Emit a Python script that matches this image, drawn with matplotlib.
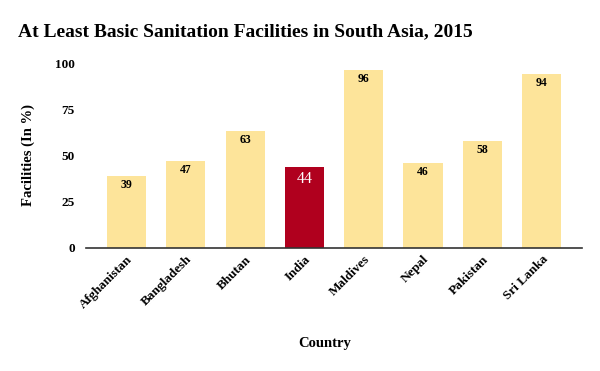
import matplotlib
matplotlib.use("Agg")
import matplotlib.pyplot as plt

countries = ["Afghanistan", "Bangladesh", "Bhutan", "India", "Maldives", "Nepal", "Pakistan", "Sri Lanka"]
values = [39, 47, 63, 44, 96, 46, 58, 94]
highlight = "India"
yticks = [0, 25, 50, 75, 100]

plt.rcParams['font.family'] = ['Liberation Serif', 'DejaVu Serif']

fig = plt.figure(figsize=(6, 3.71), dpi=100)
ax = fig.add_axes([86/600, (371-248)/371, 496/600, 185/371])

colors = ["#B0001E" if c == highlight else "#FDE49A" for c in countries]
x = list(range(len(countries)))
bars = ax.bar(x, values, width=0.66, color=colors, zorder=2)

for xi, v, c in zip(x, values, countries):
    if c == highlight:
        ax.annotate(str(v), (xi, v), xytext=(0, -9), textcoords="offset points",
                    ha="center", va="center", color="white", fontsize=11.5)
    else:
        ax.annotate(str(v), (xi, v), xytext=(0, -6.5), textcoords="offset points",
                    ha="center", va="center", color="black", fontsize=8.5, fontweight="bold")

ax.set_xlim(-0.683, 7.68)
ax.set_ylim(0, 100)
ax.set_yticks(yticks)
ax.set_yticklabels([str(t) for t in yticks], fontsize=9.5, fontweight="bold")
ax.set_xticks(x)
ax.set_xticklabels(countries, rotation=45, ha="right", rotation_mode="anchor",
                   fontsize=9.5, fontweight="bold")
ax.tick_params(axis="both", length=0)
ax.tick_params(axis="y", pad=8)
ax.tick_params(axis="x", pad=4)

for s in ["top", "right", "left"]:
    ax.spines[s].set_visible(False)
ax.spines["bottom"].set_color("#333333")
ax.spines["bottom"].set_linewidth(1.2)

ax.set_ylabel("Facilities (In %)", fontsize=10.5, fontweight="bold", labelpad=0)
ax.yaxis.set_label_coords((35 - 86) / 496, 0.5)
fig.text(325/600, 1 - 343/371, "Country", ha="center", va="center",
         fontsize=10.5, fontweight="bold")
fig.text(18/600, 1 - 32/371, "At Least Basic Sanitation Facilities in South Asia, 2015",
         ha="left", va="center", fontsize=14, fontweight="bold")

fig.savefig("out.png", dpi=100)
